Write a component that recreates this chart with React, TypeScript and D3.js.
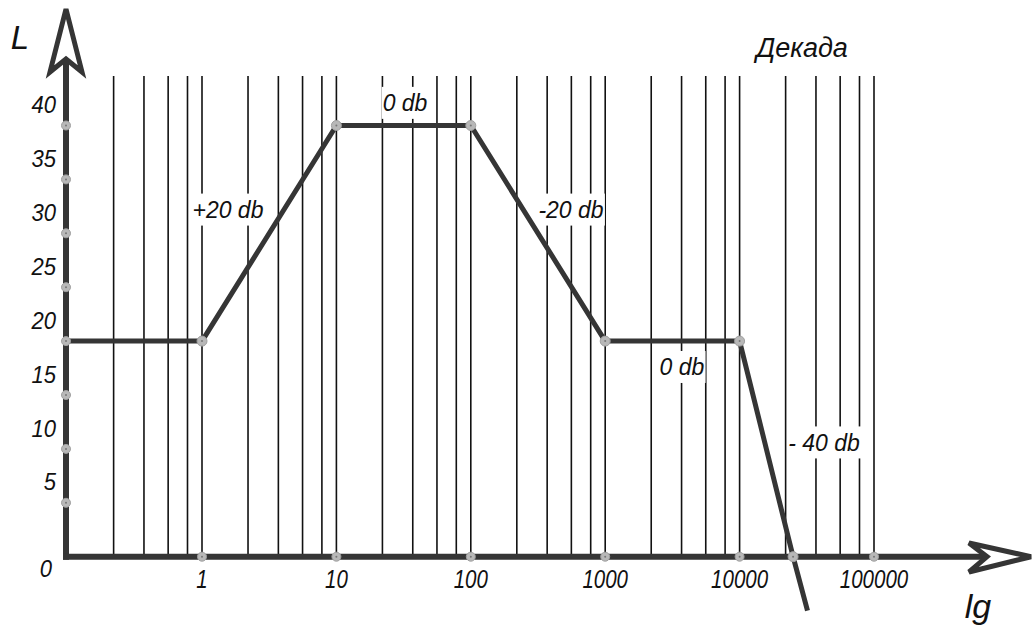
import React, { useEffect, useRef } from "react";
import * as d3 from "d3";

// Decades and minor lines inside each decade (as multipliers)
const decadeStarts = [0.1, 1, 10, 100, 1000, 10000];
const minorSteps = [2.2, 3.7, 5.6, 7.8];
const majorTicks = [1, 10, 100, 1000, 10000, 100000];
const majorLabels = ["1", "10", "100", "1000", "10000", "100000"];
const yTicks = [5, 10, 15, 20, 25, 30, 35, 40];

// Asymptotic curve (frequency, level)
const curveX = [0.097, 1, 10, 100, 1000, 10000, 25000, 32000];
const curveY = [20, 20, 40, 40, 20, 20, 0, -5];

// Slope annotations (placed in data coordinates)
const slopeText = ["+20 db", "0 db", "-20 db", "0 db", "- 40 db"];
const slopeX = [1.56, 32.4, 557, 3727, 42500];
const slopeY = [32.2, 42.1, 32.2, 17.6, 10.6];

const App = () => {
  const svgRef = useRef<SVGSVGElement>(null);

  useEffect(() => {
    const width = 1035;
    const height = 627;
    const svg = d3.select(svgRef.current).attr("width", width).attr("height", height);
    svg.selectAll("*").remove();

    const font = "'Liberation Sans', Arial, sans-serif";
    const ink = "#353535";

    const x = d3.scaleLog().domain([1, 100000]).range([202, 874]);
    const y = d3.scaleLinear().domain([0, 40]).range([556.7, 125.5]);
    const x0 = 66;
    const y0 = y(0);
    const gridTop = 76;

    // grid lines
    const gridVals: number[] = [];
    decadeStarts.forEach(d => {
      minorSteps.forEach(m => gridVals.push(d * m));
    });
    majorTicks.forEach(t => gridVals.push(t));

    svg.append("g")
      .selectAll("line")
      .data(gridVals)
      .join("line")
      .attr("x1", d => x(d))
      .attr("x2", d => x(d))
      .attr("y1", gridTop)
      .attr("y2", y0)
      .attr("stroke", "#111")
      .attr("stroke-width", 1.6);

    // slope labels with white boxes
    const labels = svg.append("g");
    slopeText.forEach((t, i) => {
      const g = labels.append("g");
      const txt = g.append("text")
        .attr("x", x(slopeX[i]))
        .attr("y", y(slopeY[i]))
        .attr("dy", "0.36em")
        .attr("text-anchor", "middle")
        .attr("font-family", font)
        .attr("font-style", "italic")
        .attr("font-size", 23)
        .attr("fill", "#111")
        .text(t);
      const bb = (txt.node() as SVGTextElement).getBBox();
      g.insert("rect", "text")
        .attr("x", bb.x - 1)
        .attr("y", y(slopeY[i]) - 16)
        .attr("width", bb.width + 2)
        .attr("height", 32)
        .attr("fill", "#fff");
    });

    // axes
    svg.append("line")
      .attr("x1", x0).attr("x2", x0)
      .attr("y1", y0 + 3).attr("y2", 58)
      .attr("stroke", ink).attr("stroke-width", 6);
    svg.append("line")
      .attr("x1", x0 - 3).attr("x2", 988)
      .attr("y1", y0).attr("y2", y0)
      .attr("stroke", ink).attr("stroke-width", 6);

    // arrow heads
    svg.append("path")
      .attr("d", `M50,72 L${x0},9 L82,72 L${x0},59 Z`)
      .attr("fill", "#fff")
      .attr("stroke", ink)
      .attr("stroke-width", 5)
      .attr("stroke-linejoin", "miter");
    svg.append("path")
      .attr("d", `M969,543 L1031,${y0} L969,572 L987,${y0} Z`)
      .attr("fill", "#fff")
      .attr("stroke", ink)
      .attr("stroke-width", 5)
      .attr("stroke-linejoin", "miter");

    // curve
    const pts = curveX.map((v, i) => [v, curveY[i]] as [number, number]);
    const line = d3.line<[number, number]>()
      .x(d => (d[0] < 0.1 ? x0 : x(d[0])))
      .y(d => y(d[1]));
    svg.append("path")
      .datum(pts)
      .attr("d", line)
      .attr("fill", "none")
      .attr("stroke", ink)
      .attr("stroke-width", 5)
      .attr("stroke-linejoin", "round");

    // dots
    const dot = (cx: number, cy: number, r: number) => {
      svg.append("circle")
        .attr("cx", cx).attr("cy", cy).attr("r", r)
        .attr("fill", "#b8b8b8").attr("stroke", "#a0a0a0").attr("stroke-width", 1);
      svg.append("circle")
        .attr("cx", cx).attr("cy", cy).attr("r", 1)
        .attr("fill", "#777");
    };
    majorTicks.forEach(t => dot(x(t), y0, 4.5));
    yTicks.forEach(v => dot(x0, y(v), 4.5));
    pts.slice(1, -1).forEach(p => dot(x(p[0]), y(p[1]), 5));

    // tick labels
    majorTicks.forEach((t, i) => {
      svg.append("text")
        .attr("transform", `translate(${x(t)},${y0 + 22}) scale(0.82,1)`)
        .attr("dy", "0.36em")
        .attr("text-anchor", "middle")
        .attr("font-family", font)
        .attr("font-style", "italic")
        .attr("font-size", 25)
        .attr("fill", "#111")
        .text(majorLabels[i]);
    });
    yTicks.forEach(v => {
      svg.append("text")
        .attr("transform", `translate(56,${y(v) - 21}) scale(0.92,1)`)
        .attr("dy", "0.36em")
        .attr("text-anchor", "end")
        .attr("font-family", font)
        .attr("font-style", "italic")
        .attr("font-size", 24)
        .attr("fill", "#111")
        .text(v);
    });
    svg.append("text")
      .attr("transform", `translate(46,${y0 + 12}) scale(0.92,1)`)
      .attr("dy", "0.36em")
      .attr("text-anchor", "middle")
      .attr("font-family", font)
      .attr("font-style", "italic")
      .attr("font-size", 24)
      .attr("fill", "#111")
      .text("0");

    // axis titles
    svg.append("text")
      .attr("x", 20).attr("y", 49)
      .attr("text-anchor", "middle")
      .attr("font-family", font)
      .attr("font-style", "italic")
      .attr("font-size", 33)
      .attr("fill", "#111")
      .text("L");
    svg.append("text")
      .attr("x", 978).attr("y", 618)
      .attr("text-anchor", "middle")
      .attr("font-family", font)
      .attr("font-style", "italic")
      .attr("font-size", 34)
      .attr("fill", "#111")
      .text("lg");
    svg.append("text")
      .attr("x", 802).attr("y", 57)
      .attr("text-anchor", "middle")
      .attr("font-family", font)
      .attr("font-style", "italic")
      .attr("font-size", 27)
      .attr("fill", "#111")
      .text("Декада");
  }, []);

  return <svg ref={svgRef} style={{ position: "absolute", left: 0, top: 0, background: "#fff" }}></svg>;
};

export default App;
